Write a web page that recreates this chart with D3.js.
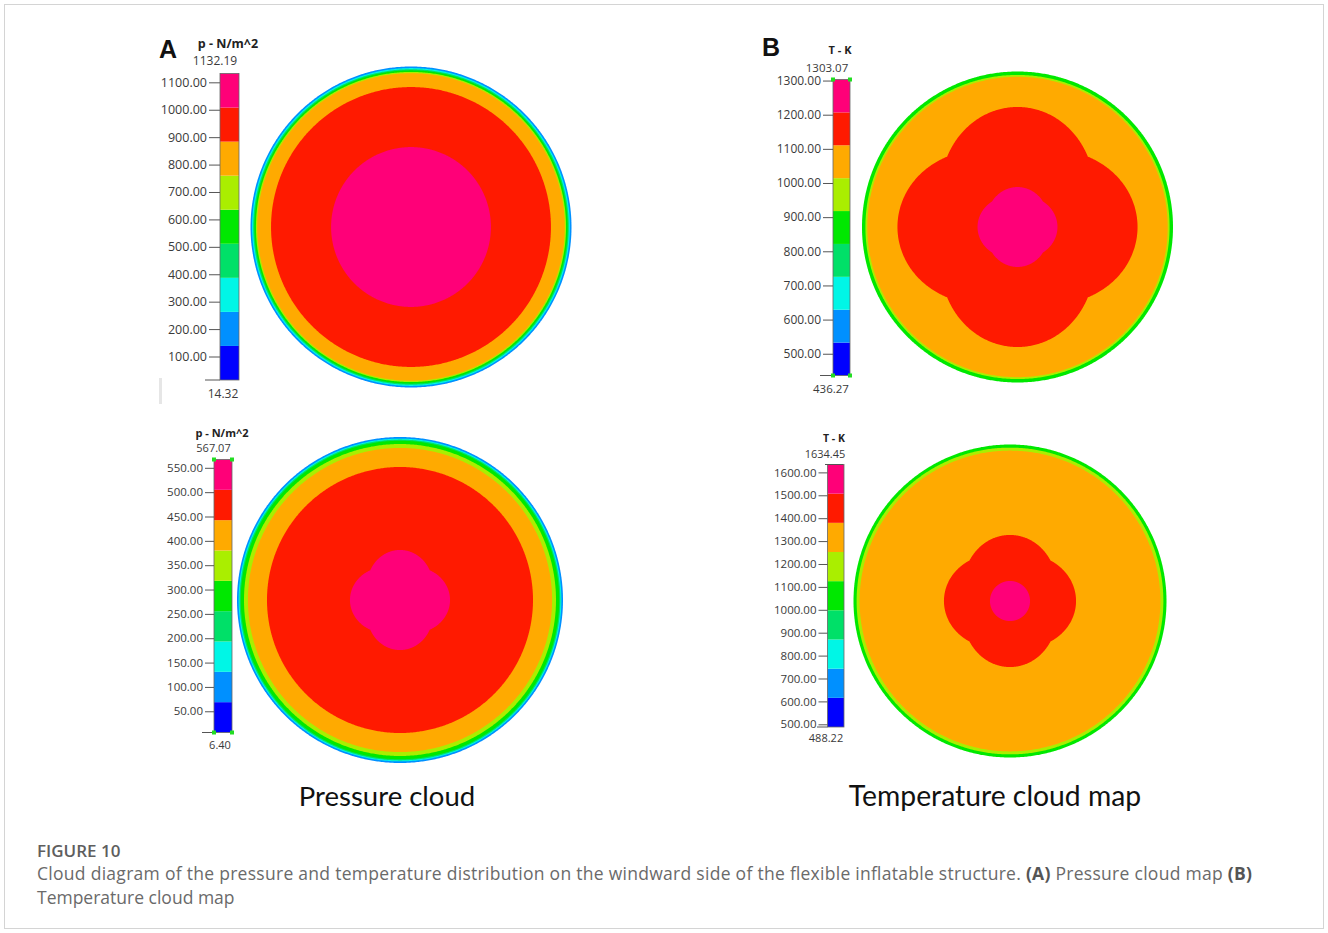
<!DOCTYPE html>
<html>
<head>
<meta charset="utf-8">
<script src="https://cdn.jsdelivr.net/npm/d3@7"></script>
<style>
  body { margin: 0; background: #fff; }
  svg { display: block; }
</style>
</head>
<body>
<svg id="fig" width="1328" height="933"></svg>
<script>
// Contour band colours, lowest band first (9 equal bands between min and max)
const bandColors = ["#0000ff", "#0090ff", "#00f6e6", "#00e068", "#00e800", "#aaee00", "#ffaa00", "#ff1a00", "#ff0078"];

// Colour-bar ranges [min, max] and labelled tick values
const pressureRangeA1 = [14.32, 1132.19];
const pressureTicksA1 = [100, 200, 300, 400, 500, 600, 700, 800, 900, 1000, 1100];
const temperatureRangeB1 = [436.27, 1303.07];
const temperatureTicksB1 = [500, 600, 700, 800, 900, 1000, 1100, 1200, 1300];
const pressureRangeA2 = [6.40, 567.07];
const pressureTicksA2 = [50, 100, 150, 200, 250, 300, 350, 400, 450, 500, 550];
const temperatureRangeB2 = [488.22, 1634.45];
const temperatureTicksB2 = [500, 600, 700, 800, 900, 1000, 1100, 1200, 1300, 1400, 1500, 1600];

// Iso-band outlines on the windward face, outermost first:
// [band index, normalised radius on the axes, normalised radius on the diagonals]
const pressureBandsA1 = [[1, 1.000, 1.000], [2, 0.990, 0.990], [3, 0.983, 0.983], [4, 0.976, 0.976],
                         [5, 0.966, 0.966], [6, 0.958, 0.958], [7, 0.872, 0.872], [8, 0.498, 0.498]];
const temperatureBandsB1 = [[4, 1.000, 1.000], [5, 0.978, 0.978], [6, 0.966, 0.966],
                            [7, 0.772, 0.640], [8, 0.257, 0.232]];
const pressureBandsA2 = [[1, 1.000, 1.000], [2, 0.990, 0.990], [3, 0.984, 0.984], [4, 0.977, 0.977],
                         [5, 0.957, 0.957], [6, 0.933, 0.933], [7, 0.816, 0.816], [8, 0.307, 0.258]];
const temperatureBandsB2 = [[4, 1.000, 1.000], [5, 0.980, 0.980], [6, 0.961, 0.961],
                            [7, 0.422, 0.366], [8, 0.128, 0.128]];

const svg = d3.select("#fig");
const FONT = "'Open Sans', 'Noto Sans', sans-serif";

// page frame
svg.append("rect").attr("x", 4.5).attr("y", 4.5).attr("width", 1319).attr("height", 924)
  .attr("fill", "#fff").attr("stroke", "#d4d4d4").attr("stroke-width", 1);

const panels = [
  {
    letter: "A", letterX: 168, letterY: 58,
    unit: "p - N/m^2", unitX: 228, unitY: 48, unitSize: 12.5,
    range: pressureRangeA1, ticks: pressureTicksA1,
    bar: { x: 220, w: 19, top: 73.5, bottom: 380 }, tickSize: 11, labelSize: 12.5,
    maxX: 215, maxY: 65, minX: 223, minY: 398, extSize: 12,
    minLine: [205, 220], dots: false,
    disc: { cx: 411, cy: 227, r: 160.5 }, bands: pressureBandsA1
  },
  {
    letter: "B", letterX: 771, letterY: 56,
    unit: "T - K", unitX: 840, unitY: 54, unitSize: 11,
    range: temperatureRangeB1, ticks: temperatureTicksB1,
    bar: { x: 833, w: 17, top: 79.5, bottom: 375.5 }, tickSize: 10, labelSize: 12,
    maxX: 827, maxY: 71.5, minX: 831, minY: 393, extSize: 11.5,
    minLine: [820, 833], dots: true,
    disc: { cx: 1017.5, cy: 227, r: 155.5 }, bands: temperatureBandsB1
  },
  {
    letter: null,
    unit: "p - N/m^2", unitX: 222, unitY: 437, unitSize: 11,
    range: pressureRangeA2, ticks: pressureTicksA2,
    bar: { x: 214, w: 18, top: 459.5, bottom: 732.5 }, tickSize: 9, labelSize: 11.5,
    maxX: 213.5, maxY: 452, minX: 220, minY: 749, extSize: 11,
    minLine: [202, 214], dots: true,
    disc: { cx: 400, cy: 600, r: 163 }, bands: pressureBandsA2
  },
  {
    letter: null,
    unit: "T - K", unitX: 834, unitY: 442, unitSize: 10.5,
    range: temperatureRangeB2, ticks: temperatureTicksB2,
    bar: { x: 827.5, w: 16.5, top: 464.5, bottom: 727 }, tickSize: 9, labelSize: 11.5,
    maxX: 825, maxY: 458, minX: 826, minY: 742, extSize: 11,
    minLine: [817, 827.5], topLine: [825, 843], dots: false,
    disc: { cx: 1010, cy: 601, r: 156.5 }, bands: temperatureBandsB2
  }
];

// closed outline of an iso-band: round on the axes, notched on the diagonals
function bandOutline(rScale, rAxis, rDiag) {
  const angles = d3.range(0, 720).map(i => i / 720 * 2 * Math.PI);
  return d3.lineRadial()
    .angle(a => a)
    .radius(a => {
      const w = Math.sqrt(Math.max(0, (1 + Math.cos(4 * a)) / 2));
      return rScale(rDiag + (rAxis - rDiag) * w);
    })
    .curve(d3.curveLinearClosed)(angles);
}

panels.forEach(p => {
  const g = svg.append("g");

  // ---- colour bar ----
  const y = d3.scaleLinear().domain(p.range).range([p.bar.bottom, p.bar.top]);
  const n = bandColors.length;
  const edges = d3.range(n + 1).map(i => p.range[0] + i * (p.range[1] - p.range[0]) / n);

  g.selectAll("rect.band").data(bandColors).join("rect")
    .attr("class", "band")
    .attr("x", p.bar.x).attr("width", p.bar.w)
    .attr("y", (c, i) => y(edges[i + 1]))
    .attr("height", (c, i) => y(edges[i]) - y(edges[i + 1]))
    .attr("fill", c => c);
  g.append("rect")
    .attr("x", p.bar.x).attr("y", y(p.range[1])).attr("width", p.bar.w)
    .attr("height", y(p.range[0]) - y(p.range[1]))
    .attr("fill", "none").attr("stroke", "#666").attr("stroke-width", 0.8);

  const axis = d3.axisLeft(y).tickValues(p.ticks).tickFormat(d3.format(".2f"))
    .tickSize(p.tickSize).tickPadding(2);
  const ag = g.append("g").attr("transform", `translate(${p.bar.x},0)`).call(axis);
  ag.select(".domain").remove();
  ag.selectAll(".tick line").attr("stroke", "#555").attr("stroke-width", 1);
  ag.selectAll(".tick text").attr("fill", "#3a3a3a")
    .style("font-family", FONT).style("font-size", p.labelSize + "px");

  // line at the minimum value
  g.append("line").attr("x1", p.minLine[0]).attr("x2", p.minLine[1])
    .attr("y1", y(p.range[0])).attr("y2", y(p.range[0]))
    .attr("stroke", "#555").attr("stroke-width", 1);
  if (p.topLine) {
    g.append("line").attr("x1", p.topLine[0]).attr("x2", p.topLine[1])
      .attr("y1", y(p.range[1])).attr("y2", y(p.range[1]))
      .attr("stroke", "#555").attr("stroke-width", 1);
  }
  if (p.dots) {
    [p.range[0], p.range[1]].forEach(v => {
      [p.bar.x, p.bar.x + p.bar.w].forEach(x => {
        g.append("rect").attr("x", x - 2).attr("y", y(v) - 2).attr("width", 4).attr("height", 4)
          .attr("fill", "#22dd22");
      });
    });
  }

  // header, extremes and panel letter
  g.append("text").attr("x", p.unitX).attr("y", p.unitY).attr("text-anchor", "middle")
    .style("font-family", FONT).style("font-weight", 700).style("font-size", p.unitSize + "px")
    .attr("fill", "#222").text(p.unit);
  g.append("text").attr("x", p.maxX).attr("y", p.maxY).attr("text-anchor", "middle")
    .style("font-family", FONT).style("font-size", p.extSize + "px")
    .attr("fill", "#3a3a3a").text(d3.format(".2f")(p.range[1]));
  g.append("text").attr("x", p.minX).attr("y", p.minY).attr("text-anchor", "middle")
    .style("font-family", FONT).style("font-size", p.extSize + "px")
    .attr("fill", "#3a3a3a").text(d3.format(".2f")(p.range[0]));
  if (p.letter) {
    g.append("text").attr("x", p.letterX).attr("y", p.letterY).attr("text-anchor", "middle")
      .style("font-family", "'Liberation Sans', Arial, sans-serif").style("font-weight", 700)
      .style("font-size", "25px").attr("fill", "#111").text(p.letter);
  }

  // ---- contour disc ----
  const r = d3.scaleLinear().domain([0, 1]).range([0, p.disc.r]);
  const dg = g.append("g").attr("transform", `translate(${p.disc.cx},${p.disc.cy})`);
  dg.selectAll("path").data(p.bands).join("path")
    .attr("d", b => bandOutline(r, b[1], b[2]))
    .attr("fill", b => bandColors[b[0]]);
});

// faint scan smudge beside the first colour bar
svg.append("rect").attr("x", 159).attr("y", 378).attr("width", 3).attr("height", 26)
  .attr("fill", "#e6e6e6");

// panel captions
svg.append("text").attr("x", 387).attr("y", 806).attr("text-anchor", "middle")
  .style("font-family", "Lato, 'Open Sans', sans-serif").style("font-size", "27.5px")
  .attr("fill", "#111").text("Pressure cloud");
svg.append("text").attr("x", 995).attr("y", 806).attr("text-anchor", "middle")
  .style("font-family", "Lato, 'Open Sans', sans-serif").style("font-size", "28.3px")
  .attr("fill", "#111").text("Temperature cloud map");

// figure caption
const CAP = "Lato, 'Open Sans', sans-serif";
svg.append("text").attr("x", 37).attr("y", 857)
  .style("font-family", FONT).style("font-size", "17px").style("font-weight", 600)
  .attr("fill", "#5e5e5e").text("FIGURE 10");
const cap1 = svg.append("text").attr("x", 37).attr("y", 880)
  .attr("textLength", 1215).attr("lengthAdjust", "spacing")
  .style("font-family", FONT).style("font-size", "17.5px").attr("fill", "#6a6a6a");
cap1.append("tspan").text("Cloud diagram of the pressure and temperature distribution on the windward side of the flexible inflatable structure. ");
cap1.append("tspan").style("font-weight", 700).attr("fill", "#555").text("(A)");
cap1.append("tspan").text(" Pressure cloud map ");
cap1.append("tspan").style("font-weight", 700).attr("fill", "#555").text("(B)");
svg.append("text").attr("x", 37).attr("y", 904)
  .style("font-family", FONT).style("font-size", "17.5px").attr("fill", "#6a6a6a")
  .text("Temperature cloud map");
</script>
</body>
</html>
